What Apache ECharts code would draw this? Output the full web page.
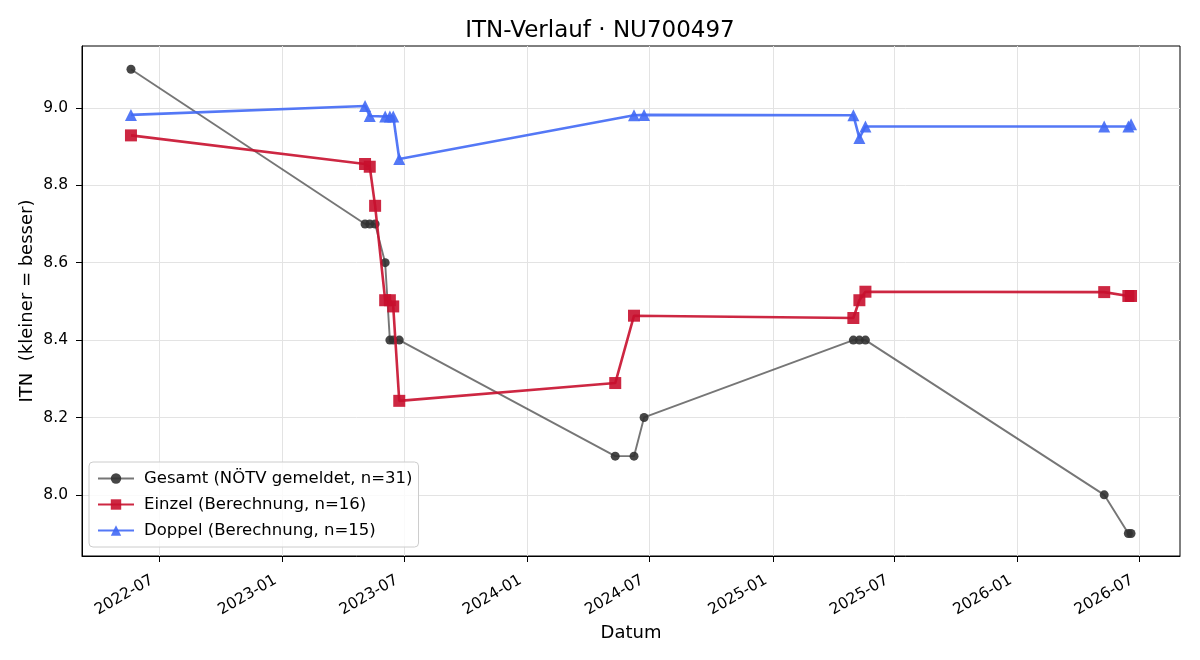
<!DOCTYPE html>
<html>
<head>
<meta charset="utf-8">
<script src="https://cdn.jsdelivr.net/npm/echarts@6/dist/echarts.min.js"></script>
<style>
  html, body { margin: 0; padding: 0; background: #fff; }
  #chart { width: 1200px; height: 660px; }
</style>
</head>
<body>
<div id="chart"></div>
<script>
// data
const gesamtDates = ['2022-05-20', '2023-05-04', '2023-05-11', '2023-05-19', '2023-06-03', '2023-06-10', '2023-06-15', '2023-06-24',
    '2024-05-11', '2024-06-08', '2024-06-23', '2025-05-01', '2025-05-10', '2025-05-19', '2026-05-10', '2026-06-15', '2026-06-19'];
const gesamtValues = [9.1, 8.7, 8.7, 8.7, 8.6, 8.4, 8.4, 8.4, 8.1, 8.1, 8.2, 8.4, 8.4, 8.4, 8.0, 7.9, 7.9];

const einzelDates = ['2022-05-20', '2023-05-04', '2023-05-11', '2023-05-19', '2023-06-03', '2023-06-10', '2023-06-15', '2023-06-24',
    '2024-05-11', '2024-06-08', '2025-05-01', '2025-05-10', '2025-05-19', '2026-05-10', '2026-06-15', '2026-06-19'];
const einzelValues = [8.929, 8.855, 8.848, 8.747, 8.503, 8.503, 8.487, 8.243, 8.289, 8.463, 8.457, 8.503, 8.525, 8.524, 8.514, 8.514];

const doppelDates = ['2022-05-20', '2023-05-04', '2023-05-11', '2023-06-03', '2023-06-10', '2023-06-15', '2023-06-24',
    '2024-06-08', '2024-06-23', '2025-05-01', '2025-05-10', '2025-05-19', '2026-05-10', '2026-06-15', '2026-06-19'];
const doppelValues = [8.982, 9.005, 8.979, 8.978, 8.978, 8.978, 8.868, 8.981, 8.982, 8.981, 8.922, 8.952, 8.952, 8.952, 8.958];

const xTicks = ['2022-07', '2023-01', '2023-07', '2024-01', '2024-07', '2025-01', '2025-07', '2026-01', '2026-07'];
const yTicks = [8.0, 8.2, 8.4, 8.6, 8.8, 9.0];

const toTs = s => {
    const p = s.split('-').map(Number);
    return new Date(p[0], p[1] - 1, p[2] || 1).getTime();
};
const pairs = (dates, vals) => dates.map((d, i) => [toTs(d), vals[i]]);
const pad = n => (n < 10 ? '0' : '') + n;

const chart = echarts.init(document.getElementById('chart'));
const font = 'DejaVu Sans';

chart.setOption({
    animation: false,
    textStyle: { fontFamily: font },
    title: {
        text: 'ITN-Verlauf · NU700497',
        left: 'center',
        top: 15,
        textStyle: { fontFamily: font, fontSize: 23, fontWeight: 'normal', color: '#000' }
    },
    grid: {
        left: 82, right: 20, top: 46, bottom: 104,
        show: true, borderColor: '#000', borderWidth: 1
    },
    legend: {
        orient: 'vertical',
        left: 89, top: 462,
        backgroundColor: 'rgba(255,255,255,0.8)',
        borderColor: '#cccccc', borderWidth: 1, borderRadius: 4,
        padding: [7, 6, 7, 8],
        itemGap: 7,
        itemWidth: 36, itemHeight: 13,
        textStyle: { fontFamily: font, fontSize: 16.5, color: '#000', lineHeight: 19, padding: [0, 0, 0, 5] },
        data: ['Gesamt (NÖTV gemeldet, n=31)', 'Einzel (Berechnung, n=16)', 'Doppel (Berechnung, n=15)']
    },
    xAxis: {
        type: 'value',
        min: toTs('2022-03-08'),
        max: toTs('2026-08-31'),
        name: 'Datum',
        nameLocation: 'middle',
        nameGap: 68,
        nameMoveOverlap: false,
        nameTextStyle: { fontFamily: font, fontSize: 18, color: '#000' },
        axisLine: { lineStyle: { color: '#000' } },
        axisTick: { customValues: xTicks.map(toTs), length: 6, lineStyle: { color: '#000' } },
        axisLabel: {
            customValues: xTicks.map(toTs),
            rotate: 30,
            margin: 19,
            padding: [0, 8, 0, 0],
            fontFamily: font, fontSize: 15.5, color: '#000',
            formatter: v => { const d = new Date(v); return d.getFullYear() + '-' + pad(d.getMonth() + 1); }
        },
        splitLine: { show: true, lineStyle: { color: '#e3e3e3', width: 1 } }
    },
    yAxis: {
        type: 'value',
        min: 7.842,
        max: 9.16,
        name: 'ITN  (kleiner = besser)',
        nameLocation: 'middle',
        nameGap: 46,
        nameMoveOverlap: false,
        nameTextStyle: { fontFamily: font, fontSize: 18, color: '#000' },
        axisLine: { show: true, lineStyle: { color: '#000' } },
        axisTick: { show: true, customValues: yTicks, length: 6, lineStyle: { color: '#000' } },
        axisLabel: {
            customValues: yTicks,
            margin: 14,
            fontFamily: font, fontSize: 15.5, color: '#000',
            formatter: v => v.toFixed(1)
        },
        splitLine: { show: true, lineStyle: { color: '#e3e3e3', width: 1 } }
    },
    series: [
        {
            name: 'Gesamt (NÖTV gemeldet, n=31)',
            type: 'line',
            data: pairs(gesamtDates, gesamtValues),
            symbol: 'circle', symbolSize: 9,
            lineStyle: { color: 'rgba(60,60,60,0.7)', width: 1.9 },
            itemStyle: { color: 'rgba(50,50,50,0.9)' },
            z: 2
        },
        {
            name: 'Einzel (Berechnung, n=16)',
            type: 'line',
            data: pairs(einzelDates, einzelValues),
            symbol: 'rect', symbolSize: 12,
            lineStyle: { color: 'rgba(200,16,46,0.9)', width: 2.6 },
            itemStyle: { color: 'rgba(200,16,46,0.9)' },
            z: 3
        },
        {
            name: 'Doppel (Berechnung, n=15)',
            type: 'line',
            data: pairs(doppelDates, doppelValues),
            symbol: 'triangle', symbolSize: 12,
            lineStyle: { color: 'rgba(65,105,245,0.9)', width: 2.6 },
            itemStyle: { color: 'rgba(65,105,245,0.9)' },
            z: 4
        }
    ]
});

window.addEventListener('resize', () => chart.resize());
</script>
</body>
</html>
